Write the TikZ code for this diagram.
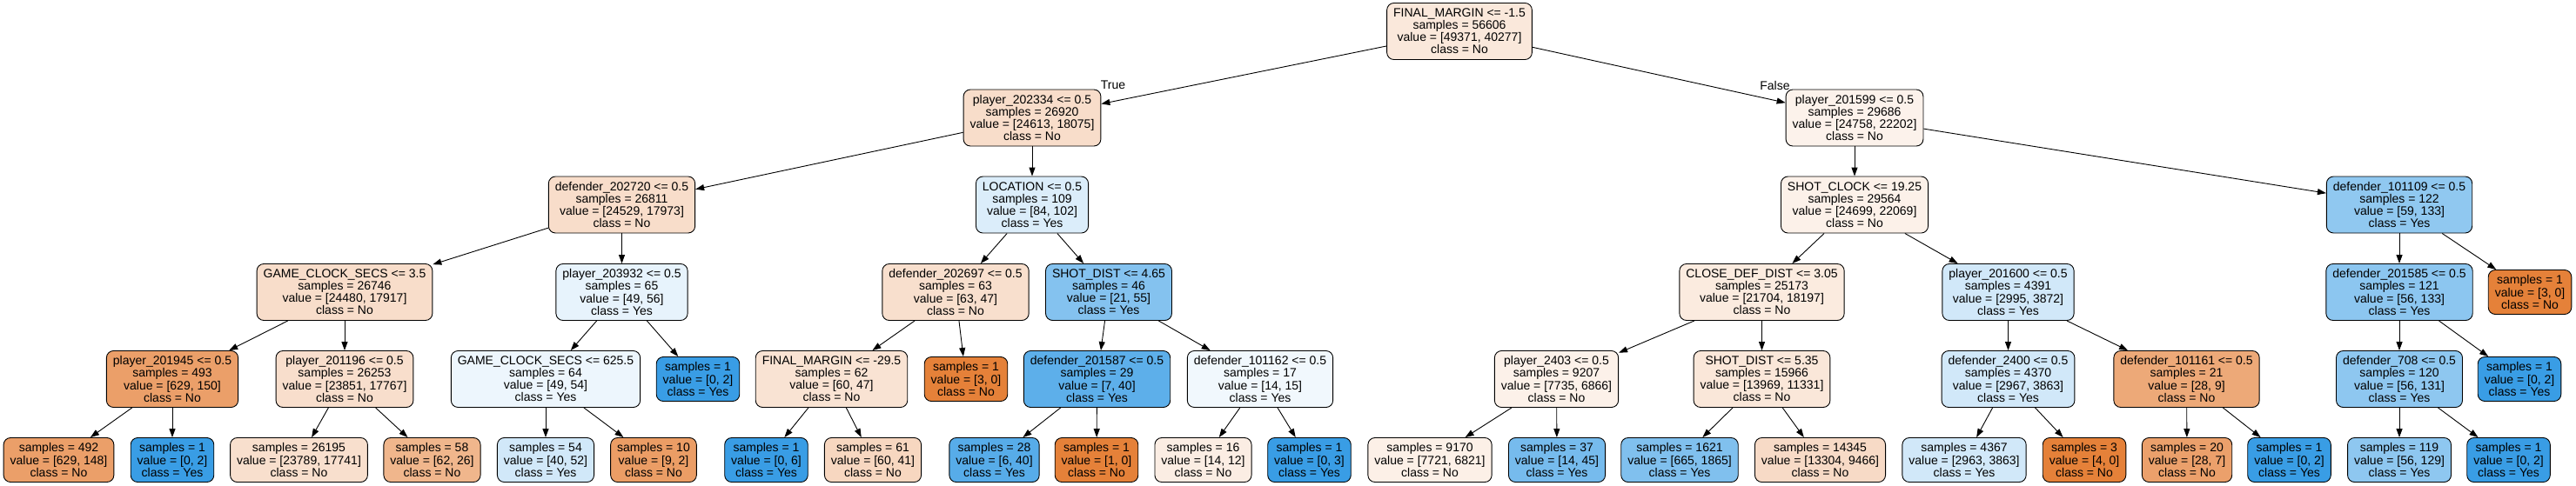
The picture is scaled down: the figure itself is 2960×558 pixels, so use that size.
\documentclass[tikz,border=0pt]{standalone}
\usepackage{fontspec}
\setmainfont{Liberation Sans}
\usetikzlibrary{arrows.meta}
\definecolor{clsno}{HTML}{E58139}
\definecolor{clsyes}{HTML}{399DE5}
\tikzset{
  treebox/.style={draw=black, line width=0.9pt, rounded corners=8pt, align=center,
    inner xsep=7.5pt, inner ysep=0pt, font=\fontsize{14}{14.1}\selectfont},
  splitbox/.style={treebox, minimum height=65pt},
  leafbox/.style={treebox, minimum height=51pt},
  edgelabel/.style={font=\fontsize{14}{14.1}\selectfont, inner sep=0pt}
}
\begin{document}
\begin{tikzpicture}[x=1pt, y=-1pt, line width=0.9pt, >={Triangle[length=10pt,width=7pt]}]
  \useasboundingbox (0,0) rectangle (2960,558);
  \node[splitbox, fill=clsno!18!white] (root) at (1677,36) {FINAL\_MARGIN <= -1.5\\samples = 56606\\value = [49371, 40277]\\class = No};
  \node[splitbox, fill=clsno!27!white] (p202334) at (1186,135.5) {player\_202334 <= 0.5\\samples = 26920\\value = [24613, 18075]\\class = No};
  \node[splitbox, fill=clsno!10!white] (p201599) at (2131,135.5) {player\_201599 <= 0.5\\samples = 29686\\value = [24758, 22202]\\class = No};
  \node[splitbox, fill=clsno!27!white] (d202720) at (714.5,235.5) {defender\_202720 <= 0.5\\samples = 26811\\value = [24529, 17973]\\class = No};
  \node[splitbox, fill=clsyes!18!white] (location) at (1186,235.5) {LOCATION <= 0.5\\samples = 109\\value = [84, 102]\\class = Yes};
  \node[splitbox, fill=clsno!11!white] (shotclock) at (2131,235.5) {SHOT\_CLOCK <= 19.25\\samples = 29564\\value = [24699, 22069]\\class = No};
  \node[splitbox, fill=clsyes!56!white] (d101109) at (2757,235.5) {defender\_101109 <= 0.5\\samples = 122\\value = [59, 133]\\class = Yes};
  \node[splitbox, fill=clsno!27!white] (gcsa) at (396,336) {GAME\_CLOCK\_SECS <= 3.5\\samples = 26746\\value = [24480, 17917]\\class = No};
  \node[splitbox, fill=clsyes!12!white] (p203932) at (714.5,336) {player\_203932 <= 0.5\\samples = 65\\value = [49, 56]\\class = Yes};
  \node[splitbox, fill=clsno!25!white] (d202697) at (1098,336) {defender\_202697 <= 0.5\\samples = 63\\value = [63, 47]\\class = No};
  \node[splitbox, fill=clsyes!62!white] (sda) at (1274,336) {SHOT\_DIST <= 4.65\\samples = 46\\value = [21, 55]\\class = Yes};
  \node[splitbox, fill=clsno!16!white] (cdd) at (2024.5,336) {CLOSE\_DEF\_DIST <= 3.05\\samples = 25173\\value = [21704, 18197]\\class = No};
  \node[splitbox, fill=clsyes!23!white] (p201600) at (2307.5,336) {player\_201600 <= 0.5\\samples = 4391\\value = [2995, 3872]\\class = Yes};
  \node[splitbox, fill=clsyes!58!white] (d201585) at (2757,336) {defender\_201585 <= 0.5\\samples = 121\\value = [56, 133]\\class = Yes};
  \node[leafbox, fill=clsno] (la) at (2907,336) {samples = 1\\value = [3, 0]\\class = No};
  \node[splitbox, fill=clsno!76!white] (p201945) at (198,436) {player\_201945 <= 0.5\\samples = 493\\value = [629, 150]\\class = No};
  \node[splitbox, fill=clsno!26!white] (p201196) at (396,436) {player\_201196 <= 0.5\\samples = 26253\\value = [23851, 17767]\\class = No};
  \node[splitbox, fill=clsyes!9!white] (gcsb) at (627,436) {GAME\_CLOCK\_SECS <= 625.5\\samples = 64\\value = [49, 54]\\class = Yes};
  \node[leafbox, fill=clsyes] (lb) at (802,436) {samples = 1\\value = [0, 2]\\class = Yes};
  \node[splitbox, fill=clsno!22!white] (fm) at (955.5,436) {FINAL\_MARGIN <= -29.5\\samples = 62\\value = [60, 47]\\class = No};
  \node[leafbox, fill=clsno] (lc) at (1110,436) {samples = 1\\value = [3, 0]\\class = No};
  \node[splitbox, fill=clsyes!82!white] (d201587) at (1260.5,436) {defender\_201587 <= 0.5\\samples = 29\\value = [7, 40]\\class = Yes};
  \node[splitbox, fill=clsyes!7!white] (d101162) at (1448,436) {defender\_101162 <= 0.5\\samples = 17\\value = [14, 15]\\class = Yes};
  \node[splitbox, fill=clsno!11!white] (p2403) at (1788.5,436) {player\_2403 <= 0.5\\samples = 9207\\value = [7735, 6866]\\class = No};
  \node[splitbox, fill=clsno!19!white] (sdb) at (2024.5,436) {SHOT\_DIST <= 5.35\\samples = 15966\\value = [13969, 11331]\\class = No};
  \node[splitbox, fill=clsyes!23!white] (d2400) at (2307.5,436) {defender\_2400 <= 0.5\\samples = 4370\\value = [2967, 3863]\\class = Yes};
  \node[splitbox, fill=clsno!68!white] (d101161) at (2512.5,436) {defender\_101161 <= 0.5\\samples = 21\\value = [28, 9]\\class = No};
  \node[splitbox, fill=clsyes!57!white] (d708) at (2757,436) {defender\_708 <= 0.5\\samples = 120\\value = [56, 131]\\class = Yes};
  \node[leafbox, fill=clsyes] (ld) at (2895,436) {samples = 1\\value = [0, 2]\\class = Yes};
  \node[leafbox, fill=clsno!76!white] (l1) at (67.5,529) {samples = 492\\value = [629, 148]\\class = No};
  \node[leafbox, fill=clsyes] (l2) at (198,529) {samples = 1\\value = [0, 2]\\class = Yes};
  \node[leafbox, fill=clsno!25!white] (l3) at (343.5,529) {samples = 26195\\value = [23789, 17741]\\class = No};
  \node[leafbox, fill=clsno!58!white] (l4) at (496.5,529) {samples = 58\\value = [62, 26]\\class = No};
  \node[leafbox, fill=clsyes!23!white] (l5) at (627,529) {samples = 54\\value = [40, 52]\\class = Yes};
  \node[leafbox, fill=clsno!78!white] (l6) at (751,529) {samples = 10\\value = [9, 2]\\class = No};
  \node[leafbox, fill=clsyes] (l7) at (880.5,529) {samples = 1\\value = [0, 6]\\class = Yes};
  \node[leafbox, fill=clsno!32!white] (l8) at (1003,529) {samples = 61\\value = [60, 41]\\class = No};
  \node[leafbox, fill=clsyes!85!white] (l9) at (1142.5,529) {samples = 28\\value = [6, 40]\\class = Yes};
  \node[leafbox, fill=clsno] (l10) at (1260,529) {samples = 1\\value = [1, 0]\\class = No};
  \node[leafbox, fill=clsno!14!white] (l11) at (1382.5,529) {samples = 16\\value = [14, 12]\\class = No};
  \node[leafbox, fill=clsyes] (l12) at (1504.5,529) {samples = 1\\value = [0, 3]\\class = Yes};
  \node[leafbox, fill=clsno!12!white] (l13) at (1643,529) {samples = 9170\\value = [7721, 6821]\\class = No};
  \node[leafbox, fill=clsyes!69!white] (l14) at (1789,529) {samples = 37\\value = [14, 45]\\class = Yes};
  \node[leafbox, fill=clsyes!64!white] (l15) at (1930,529) {samples = 1621\\value = [665, 1865]\\class = Yes};
  \node[leafbox, fill=clsno!29!white] (l16) at (2091.5,529) {samples = 14345\\value = [13304, 9466]\\class = No};
  \node[leafbox, fill=clsyes!23!white] (l17) at (2257,529) {samples = 4367\\value = [2963, 3863]\\class = Yes};
  \node[leafbox, fill=clsno] (l18) at (2395,529) {samples = 3\\value = [4, 0]\\class = No};
  \node[leafbox, fill=clsno!75!white] (l19) at (2513,529) {samples = 20\\value = [28, 7]\\class = No};
  \node[leafbox, fill=clsyes] (l20) at (2630.5,529) {samples = 1\\value = [0, 2]\\class = Yes};
  \node[leafbox, fill=clsyes!57!white] (l21) at (2757,529) {samples = 119\\value = [56, 129]\\class = Yes};
  \node[leafbox, fill=clsyes] (l22) at (2882.5,529) {samples = 1\\value = [0, 2]\\class = Yes};
  \draw[->] (root) -- (p202334);
  \node[edgelabel] (truelbl) at (1279,98) {True};
  \draw[->] (root) -- (p201599);
  \node[edgelabel] (falselbl) at (2039.5,98) {False};
  \draw[->] (p202334) -- (d202720);
  \draw[->] (p202334) -- (location);
  \draw[->] (p201599) -- (shotclock);
  \draw[->] (p201599) -- (d101109);
  \draw[->] (d202720) -- (gcsa);
  \draw[->] (d202720) -- (p203932);
  \draw[->] (location) -- (d202697);
  \draw[->] (location) -- (sda);
  \draw[->] (shotclock) -- (cdd);
  \draw[->] (shotclock) -- (p201600);
  \draw[->] (d101109) -- (d201585);
  \draw[->] (d101109) -- (la);
  \draw[->] (gcsa) -- (p201945);
  \draw[->] (gcsa) -- (p201196);
  \draw[->] (p203932) -- (gcsb);
  \draw[->] (p203932) -- (lb);
  \draw[->] (d202697) -- (fm);
  \draw[->] (d202697) -- (lc);
  \draw[->] (sda) -- (d201587);
  \draw[->] (sda) -- (d101162);
  \draw[->] (cdd) -- (p2403);
  \draw[->] (cdd) -- (sdb);
  \draw[->] (p201600) -- (d2400);
  \draw[->] (p201600) -- (d101161);
  \draw[->] (d201585) -- (d708);
  \draw[->] (d201585) -- (ld);
  \draw[->] (p201945) -- (l1);
  \draw[->] (p201945) -- (l2);
  \draw[->] (p201196) -- (l3);
  \draw[->] (p201196) -- (l4);
  \draw[->] (gcsb) -- (l5);
  \draw[->] (gcsb) -- (l6);
  \draw[->] (fm) -- (l7);
  \draw[->] (fm) -- (l8);
  \draw[->] (d201587) -- (l9);
  \draw[->] (d201587) -- (l10);
  \draw[->] (d101162) -- (l11);
  \draw[->] (d101162) -- (l12);
  \draw[->] (p2403) -- (l13);
  \draw[->] (p2403) -- (l14);
  \draw[->] (sdb) -- (l15);
  \draw[->] (sdb) -- (l16);
  \draw[->] (d2400) -- (l17);
  \draw[->] (d2400) -- (l18);
  \draw[->] (d101161) -- (l19);
  \draw[->] (d101161) -- (l20);
  \draw[->] (d708) -- (l21);
  \draw[->] (d708) -- (l22);
\end{tikzpicture}
\end{document}
